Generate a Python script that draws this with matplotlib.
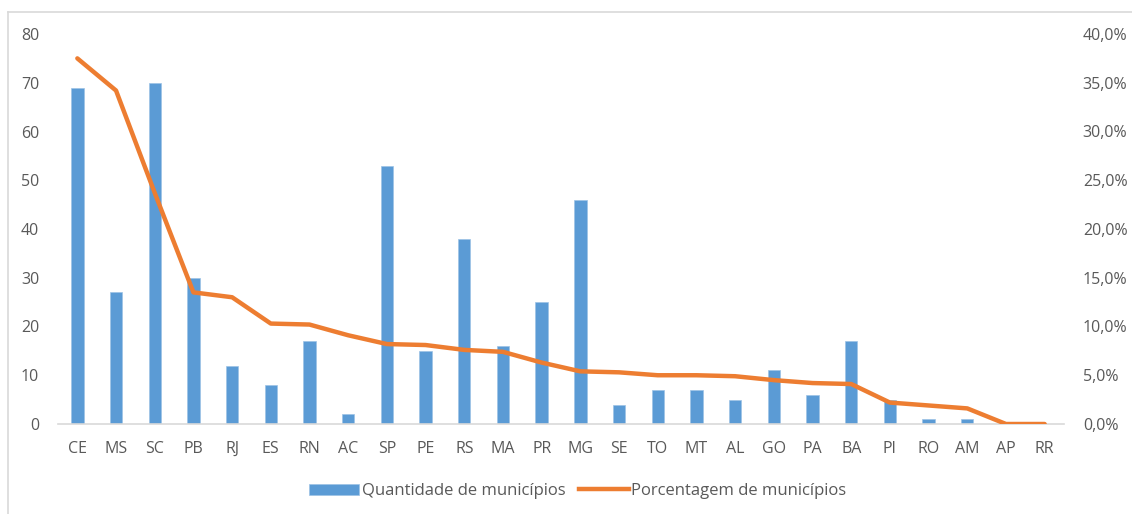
import matplotlib
matplotlib.use("Agg")
import matplotlib.pyplot as plt
from matplotlib.ticker import FuncFormatter, MultipleLocator
from matplotlib.lines import Line2D
from matplotlib.patches import Patch

plt.rcParams['font.family'] = ['Open Sans', 'DejaVu Sans']

estados = ["CE", "MS", "SC", "PB", "RJ", "ES", "RN", "AC", "SP", "PE", "RS", "MA", "PR",
           "MG", "SE", "TO", "MT", "AL", "GO", "PA", "BA", "PI", "RO", "AM", "AP", "RR"]
quantidade = [69, 27, 70, 30, 12, 8, 17, 2, 53, 15, 38, 16, 25,
              46, 4, 7, 7, 5, 11, 6, 17, 5, 1, 1, 0, 0]
porcentagem = [37.5, 34.2, 23.7, 13.5, 13.0, 10.3, 10.2, 9.1, 8.2, 8.1, 7.6, 7.4, 6.3,
               5.4, 5.3, 5.0, 5.0, 4.9, 4.5, 4.2, 4.1, 2.2, 1.9, 1.6, 0.0, 0.0]

AZUL = "#5B9BD5"
LARANJA = "#ED7D31"
CINZA_TXT = "#595959"
CINZA_LINHA = "#D9D9D9"
FONTE = 11.5

W, H = 1132, 514
fig = plt.figure(figsize=(W / 100, H / 100), dpi=100)

# chart frame: only the top and left edges fall inside the canvas
fig.add_artist(Line2D([8 / W, 8 / W], [0, 1 - 12 / H], transform=fig.transFigure,
                      color=CINZA_LINHA, lw=1.2))
fig.add_artist(Line2D([8 / W, 1], [1 - 12 / H, 1 - 12 / H], transform=fig.transFigure,
                      color=CINZA_LINHA, lw=1.2))

ax = fig.add_axes([58 / W, (H - 424) / H, 1006 / W, 390 / H])
x = range(len(estados))
ax.bar(x, quantidade, width=0.32, color=AZUL, edgecolor="#9DC3E6", linewidth=0.5, zorder=2)
ax.set_xlim(-0.5, len(estados) - 0.5)
ax.set_ylim(0, 80)
ax.yaxis.set_major_locator(MultipleLocator(10))
ax.set_xticks(list(x))
ax.set_xticklabels(estados)

ax2 = ax.twinx()
ax2.plot(list(x), [p / 100 for p in porcentagem], color=LARANJA, lw=3.2,
         solid_joinstyle="round", solid_capstyle="round", zorder=3)
ax2.set_ylim(0, 0.40)
ax2.yaxis.set_major_locator(MultipleLocator(0.05))
ax2.yaxis.set_major_formatter(FuncFormatter(lambda v, _: f"{v * 100:.1f}%".replace(".", ",")))

for a in (ax, ax2):
    for s in a.spines.values():
        s.set_visible(False)
    a.tick_params(length=0, labelsize=FONTE, labelcolor=CINZA_TXT)
ax.spines["bottom"].set_visible(True)
ax.spines["bottom"].set_color(CINZA_LINHA)
ax.spines["bottom"].set_linewidth(1.2)
ax.tick_params(axis="y", pad=13.5)
ax.tick_params(axis="x", pad=12)
ax2.tick_params(axis="y", pad=13.5)

handles = [Patch(facecolor=AZUL, edgecolor="#9DC3E6", linewidth=0.5),
           Line2D([], [], color=LARANJA, lw=3.2)]
labels = ["Quantidade de municípios", "Porcentagem de municípios"]
fig.legend(handles, labels, loc="center", bbox_to_anchor=(578 / W, 1 - 491 / H), ncol=2,
           frameon=False, fontsize=12, labelcolor=CINZA_TXT, handlelength=3.0,
           handleheight=0.65, handletextpad=0.15, columnspacing=0.8)

fig.savefig("out.png", dpi=100, facecolor="white")
